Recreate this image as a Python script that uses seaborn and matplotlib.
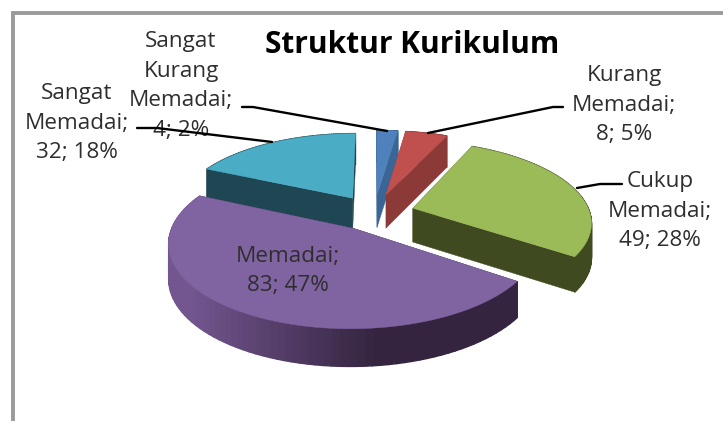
import numpy as np
import matplotlib
matplotlib.use("Agg")
import matplotlib.pyplot as plt
import matplotlib.colors as mcolors
import seaborn as sns

# data
categories = ["Sangat\nKurang\nMemadai", "Kurang\nMemadai", "Cukup\nMemadai", "Memadai", "Sangat\nMemadai"]
values = [4, 8, 49, 83, 32]
percents = [2, 5, 28, 47, 18]
title = "Struktur Kurikulum"

top_colors = ["#4F81BD", "#C0504D", "#9BBB59", "#8064A2", "#4BACC6"]
side_colors = ["#3A6594", "#8C3A38", "#404A20", "#34243F", "#1F4653"]
explode = [0.25, 0.25, 0.23, 0.22, 0.23]
draw_order = [4, 0, 1, 2, 3]

# label centres and leader lines (pixels)
label_pos = [(181, 86), (624, 105), (660, 211), (288, 271), (77, 123)]
leaders = [
    [(242, 107), (253, 107), (387, 131)],
    [(563, 107), (553, 107), (428, 133)],
    [(622, 184), (600, 184), (577, 188)],
    None,
    [(137, 128), (157, 128), (272, 142)],
]

# pie projection
CX, CY = 374, 213
A, B = 177, 79
P = 0.157
DEPTH = 34


def project(X, Y, drop=0.0):
    w = 1 + P * Y
    return CX + A * X / w, CY - B * Y / w + drop / np.sqrt(w)


def edge(start, stop, off, n=80, drop=0.0):
    t = np.radians(np.linspace(start, stop, n))
    return project(off[0] + np.sin(t), off[1] + np.cos(t), drop)


sns.set_theme(style="white")
plt.rcParams["font.family"] = ["Open Sans", "DejaVu Sans"]

fig = plt.figure(figsize=(7.23, 4.21), dpi=100)
ax = fig.add_axes([0, 0, 1, 1])
ax.set_xlim(0, 723)
ax.set_ylim(421, 0)
ax.axis("off")

# frame
ax.plot([13, 13, 723], [421, 13, 13], color="#9A9A9A", lw=2.8, solid_joinstyle="miter")

bounds = np.concatenate([[0], np.cumsum(values)]) / sum(values) * 360

for i in draw_order:
    start, stop = bounds[i], bounds[i + 1]
    mid = np.radians((start + stop) / 2)
    off = (explode[i] * np.sin(mid), explode[i] * np.cos(mid))
    ax0, ay0 = project(off[0], off[1])
    ax1, ay1 = project(off[0], off[1], DEPTH)
    rx, ry = edge(start, stop, off)
    rx2, ry2 = edge(start, stop, off, drop=DEPTH)

    # radial side faces
    for k in (0, -1):
        ax.fill([ax0, rx[k], rx2[k], ax1], [ay0, ry[k], ry2[k], ay1],
                color=side_colors[i], lw=0.3, zorder=2)

    # outer wall, purple one fades from light to dark
    for k in range(len(rx) - 1):
        if i == 3:
            f = np.clip((rx[k] - 190) / 190, 0, 1)
            c = np.array(mcolors.to_rgb("#735690")) * (1 - f) + np.array(mcolors.to_rgb(side_colors[i])) * f
            c = tuple(c)
        else:
            c = side_colors[i]
        ax.fill([rx[k], rx[k + 1], rx2[k + 1], rx2[k]], [ry[k], ry[k + 1], ry2[k + 1], ry2[k]],
                color=c, lw=1.0, zorder=2)

    ax.fill(np.r_[ax0, rx], np.r_[ay0, ry], color=top_colors[i], lw=0.3, zorder=2)

# labels
for i, cat in enumerate(categories):
    txt = f"{cat};\n{values[i]}; {percents[i]}%"
    ax.text(label_pos[i][0], label_pos[i][1], txt, ha="center", va="center",
            fontsize=16.2, color="#2E2E2E", linespacing=1.55, zorder=4)
    if leaders[i]:
        pts = np.array(leaders[i])
        ax.plot(pts[:, 0], pts[:, 1], color="black", lw=1.7, zorder=5)

ax.text(412, 45, title, ha="center", va="center", fontsize=21.5, fontweight="bold",
        color="black", zorder=4)

fig.savefig("out.png", dpi=100)
